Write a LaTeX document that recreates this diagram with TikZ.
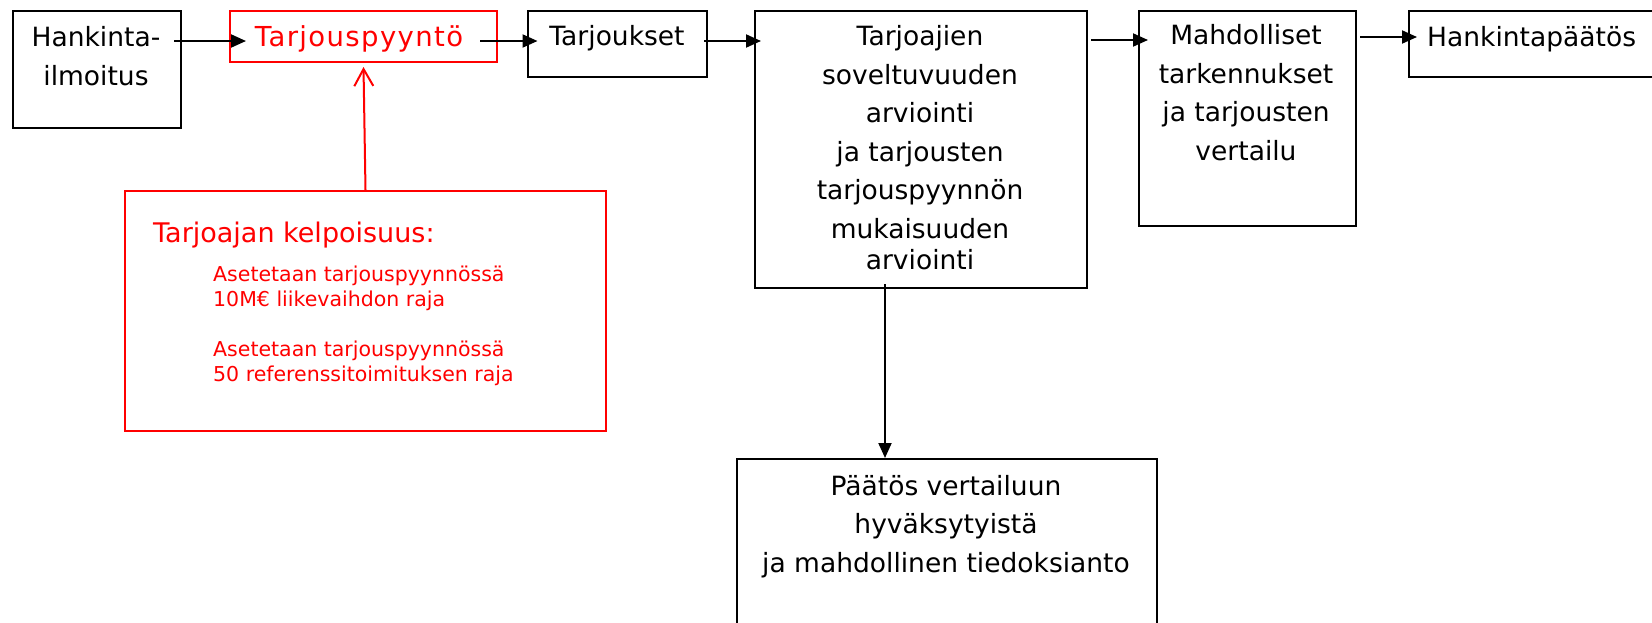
\documentclass[tikz,border=0pt]{standalone}
\usepackage{fontspec}
\setmainfont{DejaVu Sans}
\newfontfamily\spacedfont[LetterSpace=5]{DejaVu Sans}
\usetikzlibrary{arrows.meta}
\begin{document}
\begin{tikzpicture}[x=1pt,y=-1pt,
  box/.style={draw=black, line width=2pt, rectangle, inner sep=0pt, anchor=north west},
  redbox/.style={box, draw=red},
  txt/.style={inner sep=0pt, font=\fontsize{26.5}{38.5}\selectfont, align=center, anchor=base},
  redtxt/.style={txt, text=red},
  arr/.style={line width=2pt, -{Triangle[length=15pt,width=13pt]}},
  redarr/.style={draw=red, line width=2pt, -{Straight Barb[length=17pt,width=19pt]}}
  ]
\useasboundingbox (0,0) rectangle (1652,622);
\clip (0,0) rectangle (1652,622);
% boxes
\node[box, minimum width=168pt, minimum height=117pt] (b1) at (12,10) {};
\node[redbox, minimum width=267pt, minimum height=51pt] (b2) at (229,10) {};
\node[box, minimum width=179pt, minimum height=66pt] (b3) at (527,10) {};
\node[box, minimum width=332pt, minimum height=277pt] (b4) at (754,10) {};
\node[box, minimum width=217pt, minimum height=215pt] (b5) at (1138,10) {};
\node[box, minimum width=300pt, minimum height=66pt] (b6) at (1408,10) {};
\node[redbox, minimum width=481pt, minimum height=240pt] (r1) at (124,190) {};
\node[box, minimum width=420pt, minimum height=250pt] (b7) at (736,458) {};
% texts (base anchor = baseline of the last line)
\node[txt] (t1) at (96,85) {Hankinta-\\ilmoitus};
\node[redtxt, font=\spacedfont\fontsize{27.5}{38.5}\selectfont] (t2) at (359,46) {Tarjouspyyntö};
\node[txt] (t3) at (617,45) {Tarjoukset};
\node[txt] (t4) at (920,269) {Tarjoajien\\soveltuvuuden\\arviointi\\ja tarjousten\\tarjouspyynnön\\mukaisuuden\\[-7.5pt]arviointi};
\node[txt] (t5) at (1246,160) {Mahdolliset\\tarkennukset\\ja tarjousten\\vertailu};
\node[txt, anchor=base west] (t6) at (1427,46.5) {Hankintapäätös};
\node[txt] (t7) at (946,572) {Päätös vertailuun\\hyväksytyistä\\ja mahdollinen tiedoksianto};
\node[redtxt, anchor=base west, font=\fontsize{27}{30}\selectfont] (t8) at (153,242) {Tarjoajan kelpoisuus:};
\node[redtxt, anchor=base west, align=left, font=\fontsize{20.5}{25}\selectfont] (t9) at (213,381) {Asetetaan tarjouspyynnössä\\10M€ liikevaihdon raja\\[25pt]Asetetaan tarjouspyynnössä\\50 referenssitoimituksen raja};
% connectors
\draw[arr] ([shift={(-8,31)}]b1.north east) -- ([shift={(17,31)}]b2.north west);
\draw[arr] ([shift={(-18,31)}]b2.north east) -- ([shift={(10.5,31)}]b3.north west);
\draw[arr] ([shift={(-4,31)}]b3.north east) -- ([shift={(7,31)}]b4.north west);
\draw[arr] ([shift={(3,30)}]b4.north east) -- ([shift={(10,30)}]b5.north west);
\draw[arr] ([shift={(3,27)}]b5.north east) -- ([shift={(9,27)}]b6.north west);
\draw[redarr] (r1.north) -- ([shift={(0,4)}]b2.south);
\draw[arr] ([shift={(-36,-5)}]b4.south) -- ([shift={(-62,0)}]b7.north);
\end{tikzpicture}
\end{document}
